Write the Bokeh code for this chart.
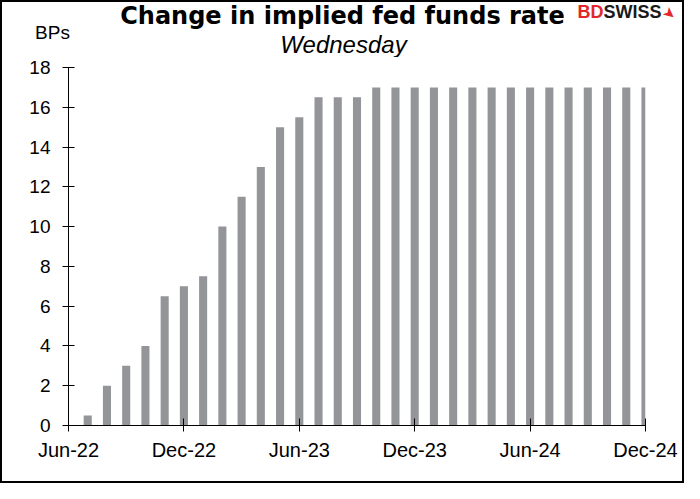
from bokeh.plotting import figure
from bokeh.models import FixedTicker, Range1d
from bokeh.layouts import column
from bokeh.core.properties import value
from bokeh.embed import file_html
from bokeh.resources import INLINE

# ---- data ----
months = ["Jul-22", "Aug-22", "Sep-22", "Oct-22", "Nov-22", "Dec-22",
          "Jan-23", "Feb-23", "Mar-23", "Apr-23", "May-23", "Jun-23",
          "Jul-23", "Aug-23", "Sep-23", "Oct-23", "Nov-23", "Dec-23",
          "Jan-24", "Feb-24", "Mar-24", "Apr-24", "May-24", "Jun-24",
          "Jul-24", "Aug-24", "Sep-24", "Oct-24", "Nov-24", "Dec-24"]
values = [0.5, 2, 3, 4, 6.5, 7,
          7.5, 10, 11.5, 13, 15, 15.5,
          16.5, 16.5, 16.5, 17, 17, 17,
          17, 17, 17, 17, 17, 17,
          17, 17, 17, 17, 17, 17]
tick_labels = ["Jun-22", "Dec-22", "Jun-23", "Dec-23", "Jun-24", "Dec-24"]
y_ticks = [0, 2, 4, 6, 8, 10, 12, 14, 16, 18]

title_text = "Change in implied fed funds rate"
subtitle_text = "Wednesday"
unit_text = "BPs"

axis_months = ["Jun-22"] + months
xs = [axis_months.index(m) for m in months]
tick_pos = [axis_months.index(t) for t in tick_labels]

FONT = "Liberation Sans"
W = 680
HEAD_H = 55
MAIN_H = 424

# ---- header (titles) : data units == pixels, y downward ----
h = figure(width=W, height=HEAD_H, output_backend="svg", toolbar_location=None,
           x_range=Range1d(0, W), y_range=Range1d(HEAD_H, 0),
           x_axis_type=None, y_axis_type=None, title=None,
           min_border_left=0, min_border_right=0, min_border_top=0,
           min_border_bottom=0)
try:
    h.frame_align = False
except Exception:
    pass
h.outline_line_color = None
h.grid.visible = False
h.background_fill_color = "white"
h.border_fill_color = "white"

h.text(x=[340], y=[13], text=[title_text], text_align="center",
       text_baseline="alphabetic", text_font=value("DejaVu Sans"),
       text_font_style="bold", text_font_size=value("24px"), text_color="black")
h.text(x=[341], y=[41.5], text=[subtitle_text], text_align="center",
       text_baseline="alphabetic", text_font=value(FONT),
       text_font_style="italic", text_font_size=value("24px"), text_color="black")
h.text(x=[50], y=[30], text=[unit_text], text_align="center",
       text_baseline="alphabetic", text_font=value(FONT),
       text_font_size=value("19px"), text_color="black")
# logo
h.text(x=[575], y=[9.5], text=["BD"], text_align="left",
       text_baseline="alphabetic", text_font=value(FONT),
       text_font_style="bold", text_font_size=value("18px"), text_color="#e3262b")
h.text(x=[601], y=[9.5], text=["SWISS"], text_align="left",
       text_baseline="alphabetic", text_font=value(FONT),
       text_font_style="bold", text_font_size=value("18px"), text_color="#1a1a1a")
h.text(x=[667], y=[11], text=["\u27a4"], text_align="center",
       text_baseline="middle", angle=-0.7, text_font=value("DejaVu Sans"),
       text_font_size=value("15px"), text_color="#e3262b")

# ---- main chart ----
p = figure(width=W, height=MAIN_H, output_backend="svg", toolbar_location=None,
           x_range=Range1d(0, len(axis_months) - 1), y_range=Range1d(0, 18),
           min_border_left=66, min_border_right=37, min_border_top=10,
           min_border_bottom=56, title=None)
try:
    p.frame_align = False
except Exception:
    pass
p.background_fill_color = "white"
p.border_fill_color = "white"
p.outline_line_color = None
p.grid.visible = False

p.vbar(x=xs, top=values, bottom=0, width=0.42, fill_color="#939598",
       line_color=None)

xa = p.xaxis[0]
xa.ticker = FixedTicker(ticks=tick_pos)
xa.major_label_overrides = {pos: lab for pos, lab in zip(tick_pos, tick_labels)}
xa.minor_tick_line_color = None
xa.major_tick_in = 7
xa.major_tick_out = 6
xa.axis_line_color = "black"
xa.major_tick_line_color = "black"
xa.major_label_text_font = FONT
xa.major_label_text_font_size = "20px"
xa.major_label_text_color = "black"
xa.major_label_standoff = 7

ya = p.yaxis[0]
ya.ticker = FixedTicker(ticks=y_ticks)
ya.minor_tick_line_color = None
ya.major_tick_in = 6
ya.major_tick_out = 6
ya.axis_line_color = "black"
ya.major_tick_line_color = "black"
ya.major_label_text_font = FONT
ya.major_label_text_font_size = "19px"
ya.major_label_text_color = "black"
ya.major_label_standoff = 12

layout = column(h, p, spacing=0)
layout.styles = {"border": "2px solid black", "background-color": "white"}

open("out.html", "w").write(file_html(layout, INLINE))
